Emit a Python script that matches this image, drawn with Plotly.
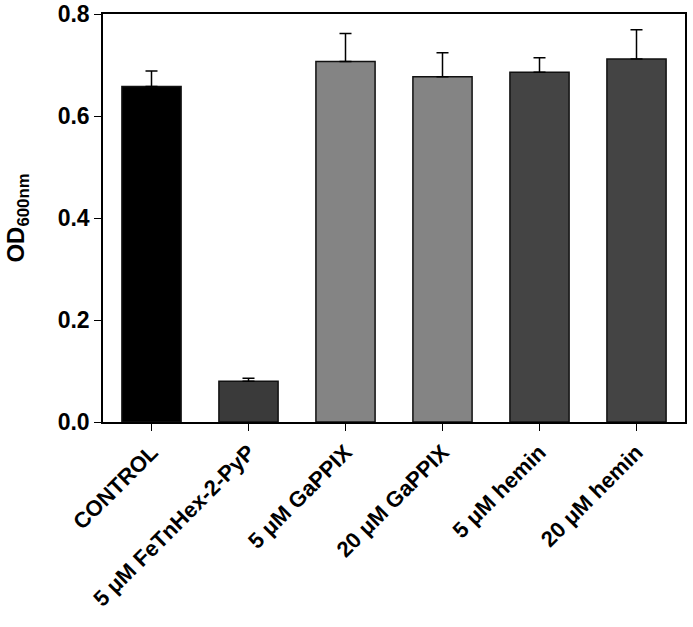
import plotly.graph_objects as go

categories = ["CONTROL", "5 μM FeTnHex-2-PyP", "5 μM GaPPIX", "20 μM GaPPIX", "5 μM hemin", "20 μM hemin"]
means = [0.658, 0.080, 0.707, 0.677, 0.686, 0.712]
errors = [0.030, 0.006, 0.055, 0.047, 0.028, 0.057]
colors = ["#000000", "#3a3a3a", "#848484", "#848484", "#444444", "#444444"]
y_ticks = [0.0, 0.2, 0.4, 0.6, 0.8]
y_ticklabels = ["0.0", "0.2", "0.4", "0.6", "0.8"]

FONT = "Arial, Liberation Sans, sans-serif"

fig = go.Figure()
fig.add_trace(go.Bar(
    x=categories,
    y=means,
    marker=dict(color=colors, line=dict(color="#111111", width=1.5)),
    error_y=dict(type="data", symmetric=False, array=errors,
                 arrayminus=[0] * len(errors),
                 color="#000000", thickness=1.5, width=6),
    width=0.61,
))

fig.update_layout(
    width=693, height=627,
    margin=dict(l=103, r=8, t=14, b=205),
    plot_bgcolor="white", paper_bgcolor="white",
    showlegend=False,
    font=dict(family=FONT, color="black"),
)
fig.update_xaxes(
    range=[-0.5, 5.5], automargin=False,
    showline=True, linecolor="black", linewidth=1.5, mirror=True,
    ticks="outside", ticklen=7, tickwidth=1.2, tickcolor="black",
    tickangle=-45,
    tickfont=dict(family=FONT, size=22, weight="bold", color="black"),
    showgrid=False, zeroline=False,
)
fig.update_yaxes(
    range=[0, 0.8], automargin=False,
    tickvals=y_ticks, ticktext=y_ticklabels,
    showline=True, linecolor="black", linewidth=1.5, mirror=True,
    ticks="outside", ticklen=7, tickwidth=1.2, tickcolor="black",
    tickfont=dict(family=FONT, size=23, weight="bold", color="black"),
    title=dict(text="OD<sub>600nm</sub>", standoff=26,
               font=dict(family=FONT, size=24, weight="bold", color="black")),
    showgrid=False, zeroline=False,
)

fig.write_html("out.html", config={"displayModeBar": False},
               post_script="document.body.style.margin='0';")
